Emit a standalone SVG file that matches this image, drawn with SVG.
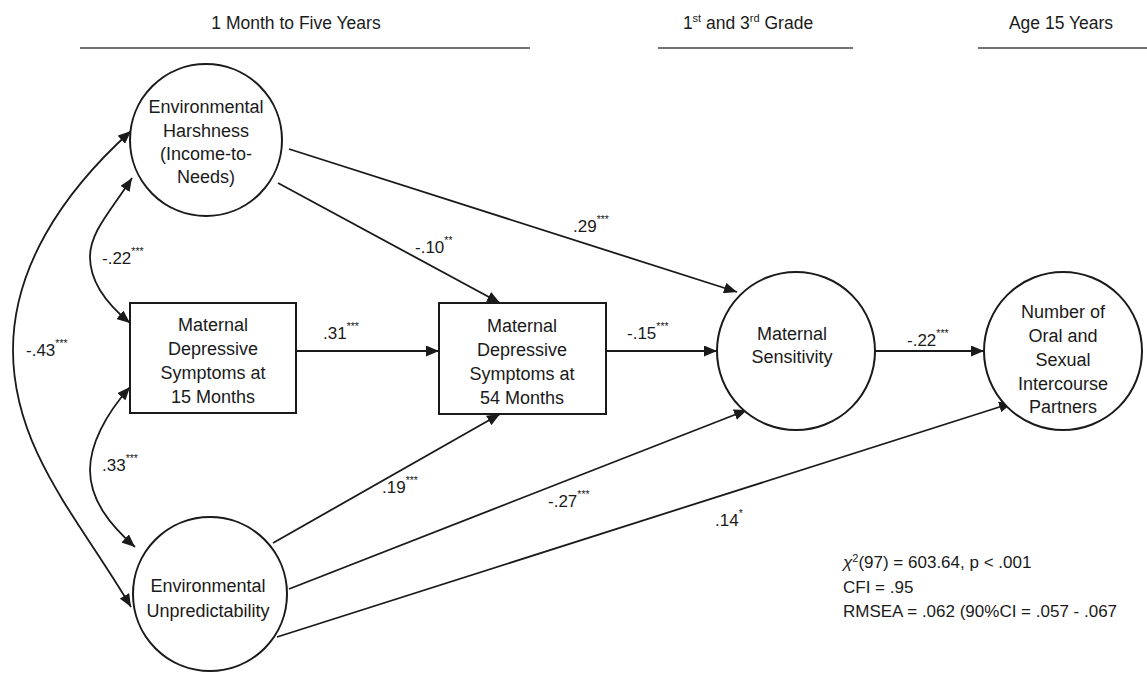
<svg xmlns="http://www.w3.org/2000/svg" width="1147" height="674" viewBox="0 0 1147 674">
<style>
text{font-family:"Liberation Sans",Arial,sans-serif;fill:#1a1a1a}
.hdr{font-size:17.5px;text-anchor:middle}
.nt{font-size:18px;text-anchor:middle}
.lb{font-size:17px}
.st{font-size:10.5px}
.stat{font-size:17px}
.node{fill:#fff;stroke:#1a1a1a;stroke-width:2}
.edge{fill:none;stroke:#1a1a1a;stroke-width:1.8}
.rule{stroke:#444;stroke-width:1.5}
</style>
<defs>
<marker id="arr" viewBox="0 0 13 11" refX="13" refY="5.5" markerWidth="13" markerHeight="11" markerUnits="userSpaceOnUse" orient="auto-start-reverse">
<path d="M0,0 L13,5.5 L0,11 z" fill="#1a1a1a"/>
</marker>
</defs>
<rect width="1147" height="674" fill="#fff"/>

<g id="headers">
<text class="hdr" x="296" y="29">1 Month to Five Years</text>
<line class="rule" x1="80" y1="48" x2="530" y2="48"/>
<text class="hdr" x="748" y="29">1<tspan font-size="11" dy="-7">st</tspan><tspan dy="7"> and 3</tspan><tspan font-size="11" dy="-7">rd</tspan><tspan dy="7"> Grade</tspan></text>
<line class="rule" x1="658" y1="48" x2="853" y2="48"/>
<text class="hdr" x="1061" y="29">Age 15 Years</text>
<line class="rule" x1="978" y1="48" x2="1147" y2="48"/>
</g>

<g id="connectors">
<path class="edge" d="M289,149 L737,292" marker-end="url(#arr)"/>
<path class="edge" d="M278,183 L500,303" marker-end="url(#arr)"/>
<path class="edge" d="M296,351 L439,351" marker-end="url(#arr)"/>
<path class="edge" d="M606,351 L717,351" marker-end="url(#arr)"/>
<path class="edge" d="M875,351 L984,351" marker-end="url(#arr)"/>
<path class="edge" d="M273,543 L500,414" marker-end="url(#arr)"/>
<path class="edge" d="M289,589 L747,410" marker-end="url(#arr)"/>
<path class="edge" d="M277,637 L1012,403" marker-end="url(#arr)"/>
<path class="edge" d="M131,131 C 60,195 13,270 13,350 C 13,450 80,520 131,607" marker-start="url(#arr)" marker-end="url(#arr)"/>
<path class="edge" d="M132,178 C 110,212 90,232 90,257 C 90,282 108,305 130,323" marker-start="url(#arr)" marker-end="url(#arr)"/>
<path class="edge" d="M130,387 C 105,415 90,445 90,470 C 90,500 110,525 135,547" marker-start="url(#arr)" marker-end="url(#arr)"/>
</g>

<g id="edge-labels">
<text class="lb" x="102" y="264">-.22<tspan class="st" dy="-9">***</tspan></text>
<text class="lb" x="26" y="356">-.43<tspan class="st" dy="-9">***</tspan></text>
<text class="lb" x="102" y="471">.33<tspan class="st" dy="-9">***</tspan></text>
<text class="lb" x="323" y="339">.31<tspan class="st" dy="-9">***</tspan></text>
<text class="lb" x="415" y="253">-.10<tspan class="st" dy="-9">**</tspan></text>
<text class="lb" x="573" y="232">.29<tspan class="st" dy="-9">***</tspan></text>
<text class="lb" x="627" y="339">-.15<tspan class="st" dy="-9">***</tspan></text>
<text class="lb" x="907" y="346">-.22<tspan class="st" dy="-9">***</tspan></text>
<text class="lb" x="382" y="493">.19<tspan class="st" dy="-9">***</tspan></text>
<text class="lb" x="548" y="507">-.27<tspan class="st" dy="-9">***</tspan></text>
<text class="lb" x="715" y="526">.14<tspan class="st" dy="-9">*</tspan></text>
</g>

<g id="harshness">
<circle class="node" cx="206" cy="140" r="76"/>
<text class="nt" x="206" y="113">Environmental</text>
<text class="nt" x="206" y="137">Harshness</text>
<text class="nt" x="206" y="160">(Income-to-</text>
<text class="nt" x="206" y="183">Needs)</text>
</g>

<g id="dep15">
<rect class="node" x="130" y="303" width="166" height="110"/>
<text class="nt" x="213" y="331">Maternal</text>
<text class="nt" x="213" y="355">Depressive</text>
<text class="nt" x="213" y="379">Symptoms at</text>
<text class="nt" x="213" y="403">15 Months</text>
</g>

<g id="dep54">
<rect class="node" x="439" y="303" width="167" height="111"/>
<text class="nt" x="522" y="332">Maternal</text>
<text class="nt" x="522" y="356">Depressive</text>
<text class="nt" x="522" y="380">Symptoms at</text>
<text class="nt" x="522" y="404">54 Months</text>
</g>

<g id="unpredictability">
<circle class="node" cx="210" cy="594" r="77"/>
<text class="nt" x="208" y="592">Environmental</text>
<text class="nt" x="208" y="617">Unpredictability</text>
</g>

<g id="sensitivity">
<circle class="node" cx="796" cy="351" r="79"/>
<text class="nt" x="792" y="340">Maternal</text>
<text class="nt" x="792" y="363">Sensitivity</text>
</g>

<g id="partners">
<circle class="node" cx="1063" cy="351" r="79"/>
<text class="nt" x="1063" y="318">Number of</text>
<text class="nt" x="1063" y="342">Oral and</text>
<text class="nt" x="1063" y="366">Sexual</text>
<text class="nt" x="1063" y="390">Intercourse</text>
<text class="nt" x="1063" y="413">Partners</text>
</g>

<g id="fit-stats">
<text class="stat" x="843" y="568"><tspan font-style="italic">χ</tspan><tspan font-size="11" dy="-6">2</tspan><tspan dy="6">(97) = 603.64, p &lt; .001</tspan></text>
<text class="stat" x="843" y="593">CFI = .95</text>
<text class="stat" x="843" y="617">RMSEA = .062 (90%CI = .057 - .067</text>
</g>
</svg>
